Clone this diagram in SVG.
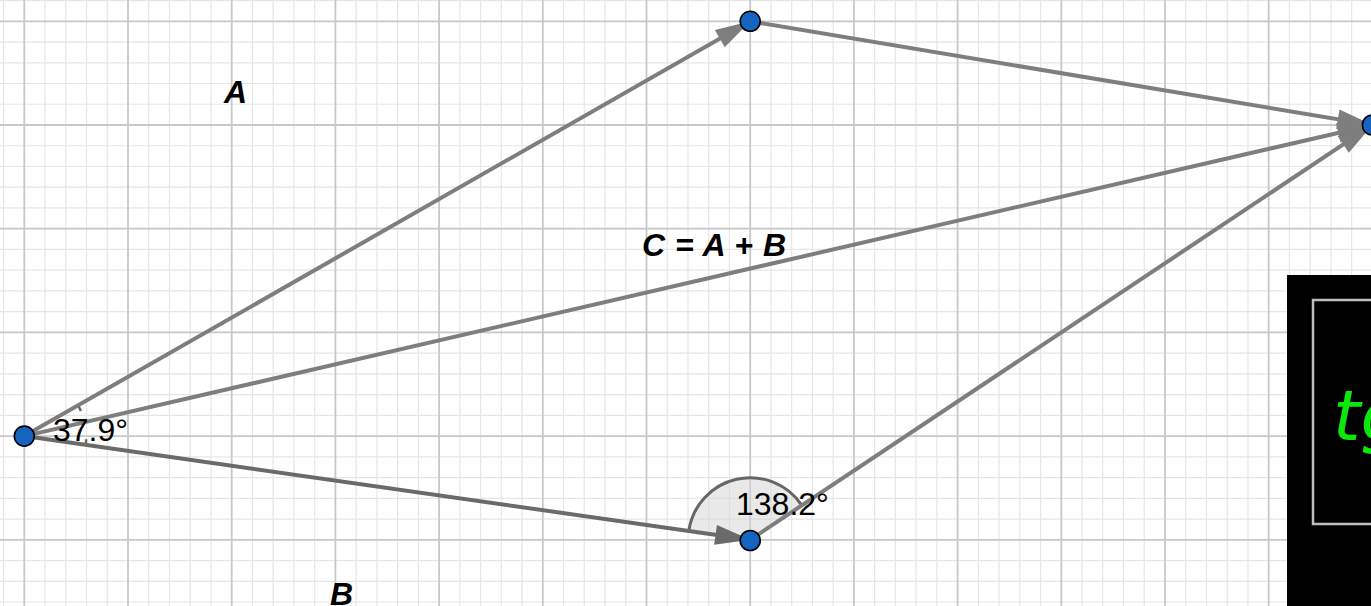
<svg xmlns="http://www.w3.org/2000/svg" width="1371" height="606" viewBox="0 0 1371 606">
<style>
.minor{stroke:#e6e6e6;stroke-width:1.2;fill:none}
.major{stroke:#c8c8c8;stroke-width:1.8;fill:none}
.vec{stroke:#7e7e7e;stroke-width:4;fill:none;stroke-linecap:butt}
.vecb{stroke:#6a6a6a;stroke-width:4;fill:none}
.pt{fill:#1565c0;stroke:#000;stroke-width:1.6}
.lbl{font-family:"Liberation Sans",Arial,sans-serif;font-weight:bold;font-style:italic;fill:#000}
.ang{font-family:"Liberation Sans",Arial,sans-serif;fill:#000;font-size:32px}
</style>
<defs>
<marker id="ah" markerUnits="userSpaceOnUse" markerWidth="40" markerHeight="24" refX="0" refY="0" viewBox="-36 -12 38 24" orient="auto" overflow="visible">
<path d="M0,0 L-35,-10 L-35,10 Z" fill="#7e7e7e"/>
</marker>
<marker id="ahb" markerUnits="userSpaceOnUse" markerWidth="40" markerHeight="24" refX="0" refY="0" viewBox="-36 -12 38 24" orient="auto" overflow="visible">
<path d="M0,0 L-35,-10 L-35,10 Z" fill="#6a6a6a"/>
</marker>
</defs>
<rect width="1371" height="606" fill="#fff"/>
<g id="grid">
<path class="minor" d="M3.56,0V606M45.04,0V606M65.78,0V606M86.52,0V606M107.26,0V606M148.74,0V606M169.48,0V606M190.22,0V606M210.96,0V606M252.44,0V606M273.18,0V606M293.92,0V606M314.66,0V606M356.14,0V606M376.88,0V606M397.62,0V606M418.36,0V606M459.84,0V606M480.58,0V606M501.32,0V606M522.06,0V606M563.54,0V606M584.28,0V606M605.02,0V606M625.76,0V606M667.24,0V606M687.98,0V606M708.72,0V606M729.46,0V606M770.94,0V606M791.68,0V606M812.42,0V606M833.16,0V606M874.64,0V606M895.38,0V606M916.12,0V606M936.86,0V606M978.34,0V606M999.08,0V606M1019.82,0V606M1040.56,0V606M1082.04,0V606M1102.78,0V606M1123.52,0V606M1144.26,0V606M1185.74,0V606M1206.48,0V606M1227.22,0V606M1247.96,0V606M1289.44,0V606M1310.18,0V606M1330.92,0V606M1351.66,0V606
M0,0.56H1371M0,42.04H1371M0,62.78H1371M0,83.52H1371M0,104.26H1371M0,145.74H1371M0,166.48H1371M0,187.22H1371M0,207.96H1371M0,249.44H1371M0,270.18H1371M0,290.92H1371M0,311.66H1371M0,353.14H1371M0,373.88H1371M0,394.62H1371M0,415.36H1371M0,456.84H1371M0,477.58H1371M0,498.32H1371M0,519.06H1371M0,560.54H1371M0,581.28H1371M0,602.02H1371"/>
<path class="major" d="M24.3,0V606M128,0V606M231.7,0V606M335.4,0V606M439.1,0V606M542.8,0V606M646.5,0V606M750.2,0V606M853.9,0V606M957.6,0V606M1061.3,0V606M1165,0V606M1268.7,0V606
M0,21.3H1371M0,125H1371M0,228.7H1371M0,332.4H1371M0,436.1H1371M0,539.8H1371"/>
</g>
<g id="angle-Q">
<path d="M750.2,539.8 L801.8,505.4 A62,62 0 0 0 688.8,531 Z" fill="#d4d4d4" fill-opacity="0.5" stroke="none"/>
<path d="M801.8,505.4 A62,62 0 0 0 688.8,531" fill="none" stroke="#666" stroke-width="3"/>
</g>
<g id="angle-O">
<path d="M78.1,405.3 A62,62 0 0 1 80.9,410.9" fill="none" stroke="#666" stroke-width="2.5"/>
<path d="M86.2,439.3 A62,62 0 0 1 85.7,444.9" fill="none" stroke="#666" stroke-width="2.5"/>
</g>
<g id="connectors">
<line class="vec" x1="24.3" y1="436.1" x2="750.2" y2="21.3" marker-end="url(#ah)"/>
<line class="vec" x1="24.3" y1="436.1" x2="1372.4" y2="125" marker-end="url(#ah)"/>
<line class="vecb" x1="24.3" y1="436.1" x2="750.2" y2="539.8" marker-end="url(#ahb)"/>
<line class="vec" x1="750.2" y1="21.3" x2="1372.4" y2="125" marker-end="url(#ah)"/>
<line class="vec" x1="750.2" y1="539.8" x2="1372.4" y2="125" marker-end="url(#ah)"/>
</g>
<g id="labels">
<text class="lbl" x="224" y="103" font-size="32">A</text>
<text class="lbl" x="330" y="605" font-size="32">B</text>
<text class="lbl" x="642" y="256" font-size="32" textLength="144" lengthAdjust="spacing">C = A + B</text>
<text class="ang" x="53" y="441">37.9°</text>
<text class="ang" x="736" y="515">138.2°</text>
</g>
<g id="node-O"><circle class="pt" cx="24.3" cy="436.1" r="10"/></g>
<g id="node-P1"><circle class="pt" cx="750.2" cy="21.3" r="10"/></g>
<g id="node-Q"><circle class="pt" cx="750.2" cy="540.5" r="10"/></g>
<g id="node-P2"><circle class="pt" cx="1372.4" cy="125" r="10"/></g>
<g id="panel">
<rect x="1287" y="275" width="90" height="340" fill="#000"/>
<rect x="1313" y="300" width="70" height="224" fill="none" stroke="#bdbdbd" stroke-width="2.5"/>
<text x="1333" y="440" font-family="DejaVu Sans, sans-serif" font-style="italic" font-size="70" fill="#0ce80c">tg</text>
</g>
</svg>
